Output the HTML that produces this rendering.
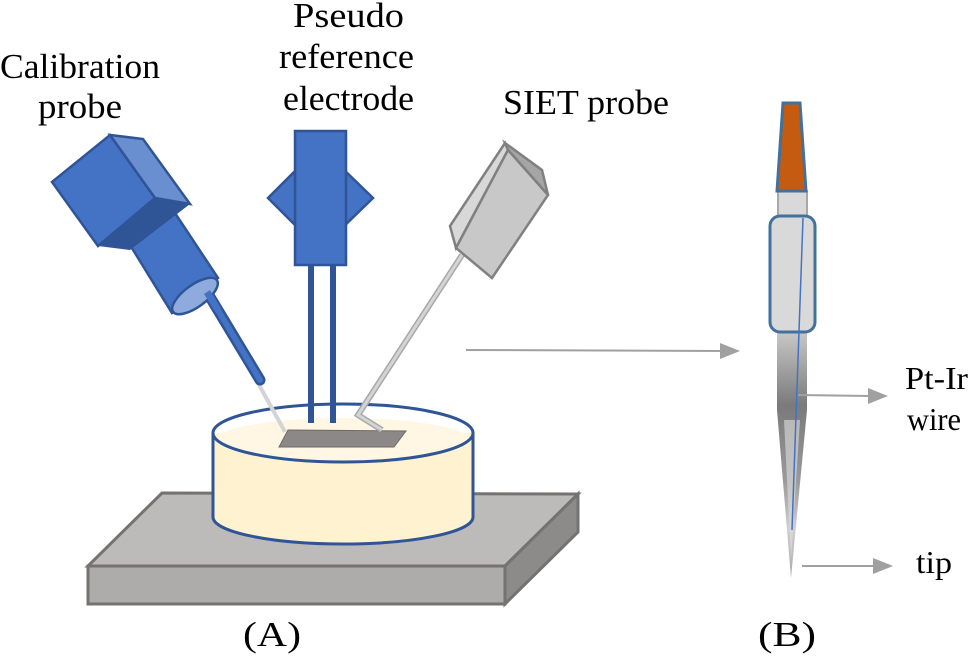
<!DOCTYPE html>
<html><head><style>html,body{margin:0;padding:0;background:#fff}svg{display:block}</style></head>
<body>
<svg width="971" height="658" viewBox="0 0 971 658" xmlns="http://www.w3.org/2000/svg">
<defs>
<linearGradient id="sh" x1="0" y1="0" x2="0" y2="1">
<stop offset="0" stop-color="#c8c8c8"/><stop offset="0.3" stop-color="#7a7a7a"/><stop offset="0.6" stop-color="#999"/><stop offset="0.8" stop-color="#cfcfcf"/><stop offset="1" stop-color="#aaa"/>
</linearGradient>
</defs>
<g font-family="Liberation Serif, serif" font-size="35" fill="#000">
<text x="0" y="78" textLength="160" lengthAdjust="spacingAndGlyphs">Calibration</text>
<text x="38" y="118" textLength="84" lengthAdjust="spacingAndGlyphs">probe</text>
<text x="293" y="27" textLength="111" lengthAdjust="spacingAndGlyphs">Pseudo</text>
<text x="279" y="68" textLength="135" lengthAdjust="spacingAndGlyphs">reference</text>
<text x="283" y="110" textLength="131" lengthAdjust="spacingAndGlyphs">electrode</text>
<text x="503" y="114" textLength="166" lengthAdjust="spacingAndGlyphs">SIET probe</text>
<text x="905" y="389" textLength="63" lengthAdjust="spacingAndGlyphs" font-size="32">Pt-Ir</text>
<text x="907" y="430" textLength="54" lengthAdjust="spacingAndGlyphs" font-size="32">wire</text>
<text x="916" y="573" font-size="32" textLength="36" lengthAdjust="spacingAndGlyphs">tip</text>
<text x="243" y="646" textLength="58" lengthAdjust="spacingAndGlyphs">(A)</text>
<text x="758" y="646" textLength="58" lengthAdjust="spacingAndGlyphs">(B)</text>
</g>
<polygon points="162,493 578,494 505,566 88,566" fill="#bdbaba" stroke="#757272" stroke-width="3"/>
<polygon points="88,566 505,566 505,604 88,604" fill="#aeabab" stroke="#757272" stroke-width="3"/>
<polygon points="505,566 578,494 578,532 505,604" fill="#8d8a8a" stroke="#757272" stroke-width="3"/>
<path d="M213,433 L213,517 A130,27 0 0 0 473,517 L473,433 Z" fill="#fff2d0"/>
<ellipse cx="343" cy="440" rx="127" ry="22" fill="#fff7e4"/>
<path d="M213,433 L213,517 A130,27 0 0 0 473,517 L473,433" fill="none" stroke="#2f5597" stroke-width="3"/>
<ellipse cx="343" cy="433" rx="130" ry="29" fill="none" stroke="#2f5597" stroke-width="3"/>
<polygon points="288,430 406,431 394,447 279,447" fill="#8c8888" stroke="#6e6a6a" stroke-width="1"/>
<line x1="258" y1="383" x2="285" y2="432" stroke="#d4d4d4" stroke-width="4"/>
<line x1="207" y1="292" x2="260" y2="380" stroke="#2f5597" stroke-width="11" stroke-linecap="round"/>
<line x1="207" y1="292" x2="260" y2="380" stroke="#4472c4" stroke-width="6" stroke-linecap="round"/>
<polygon points="130,245 175,213 218,278 172,313" fill="#4472c4" stroke="#2f5597" stroke-width="2.5"/>
<ellipse cx="195" cy="296" rx="27" ry="11" transform="rotate(-36 195 296)" fill="#8faadc" stroke="#2f5597" stroke-width="2.5"/>
<line x1="207" y1="292" x2="218" y2="310" stroke="#4472c4" stroke-width="7"/>
<polygon points="98,246 155,198 190,204 130,250" fill="#2f5597"/>
<polygon points="52,182 110,135 155,198 98,246" fill="#4472c4" stroke="#2f5597" stroke-width="2.5"/>
<polygon points="110,135 143,139 190,204 155,198" fill="#6a8fd0" stroke="#2f5597" stroke-width="2.5"/>
<polygon points="300,166 268,198 300,230" fill="#4472c4" stroke="#2f5597" stroke-width="2.5"/>
<polygon points="340,166 373,198 340,230" fill="#4472c4" stroke="#2f5597" stroke-width="2.5"/>
<rect x="295" y="131" width="51" height="134" fill="#4472c4" stroke="#2f5597" stroke-width="2.5"/>
<rect x="308" y="265" width="6" height="158" fill="#2f5597"/>
<rect x="330" y="265" width="6" height="158" fill="#2f5597"/>
<polyline points="462,255 358,415 382,430" fill="none" stroke="#a8a8a8" stroke-width="6"/>
<polyline points="462,255 358,415 382,430" fill="none" stroke="#d4d4d4" stroke-width="3"/>
<polygon points="450,226 505,143 508,150 456,248" fill="#d8d8d8" stroke="#808080" stroke-width="2.5"/>
<polygon points="505,143 542,170 548,195 508,150" fill="#a5a5a5" stroke="#808080" stroke-width="2.5"/>
<polygon points="508,150 548,195 492,278 456,248" fill="#c8c8c8" stroke="#808080" stroke-width="2.5"/>
<line x1="466" y1="350" x2="722" y2="351" stroke="#a0a0a0" stroke-width="2"/>
<polygon points="720,343 740,351 720,359" fill="#a0a0a0"/>
<polygon points="777,332 807,332 807,410 791,578 777,410" fill="url(#sh)"/>
<polygon points="784,420 800,420 791,560" fill="#e0e0e0" opacity="0.6"/>
<rect x="778" y="191" width="29" height="26" fill="#d9d9d9" stroke="#a8a8a8" stroke-width="2"/>
<polygon points="783,103 800,103 806,191 777,191" fill="#c55a11" stroke="#41719c" stroke-width="3"/>
<rect x="770" y="216" width="45" height="116" rx="10" fill="#d9d9d9" stroke="#41719c" stroke-width="3"/>
<line x1="803" y1="218" x2="792" y2="530" stroke="#4472c4" stroke-width="1.5"/>
<line x1="798" y1="395" x2="870" y2="396" stroke="#a0a0a0" stroke-width="2"/>
<polygon points="868,388 888,396 868,404" fill="#a0a0a0"/>
<line x1="802" y1="566" x2="875" y2="566" stroke="#a0a0a0" stroke-width="2"/>
<polygon points="873,558 893,566 873,574" fill="#a0a0a0"/>
</svg>
</body></html>
